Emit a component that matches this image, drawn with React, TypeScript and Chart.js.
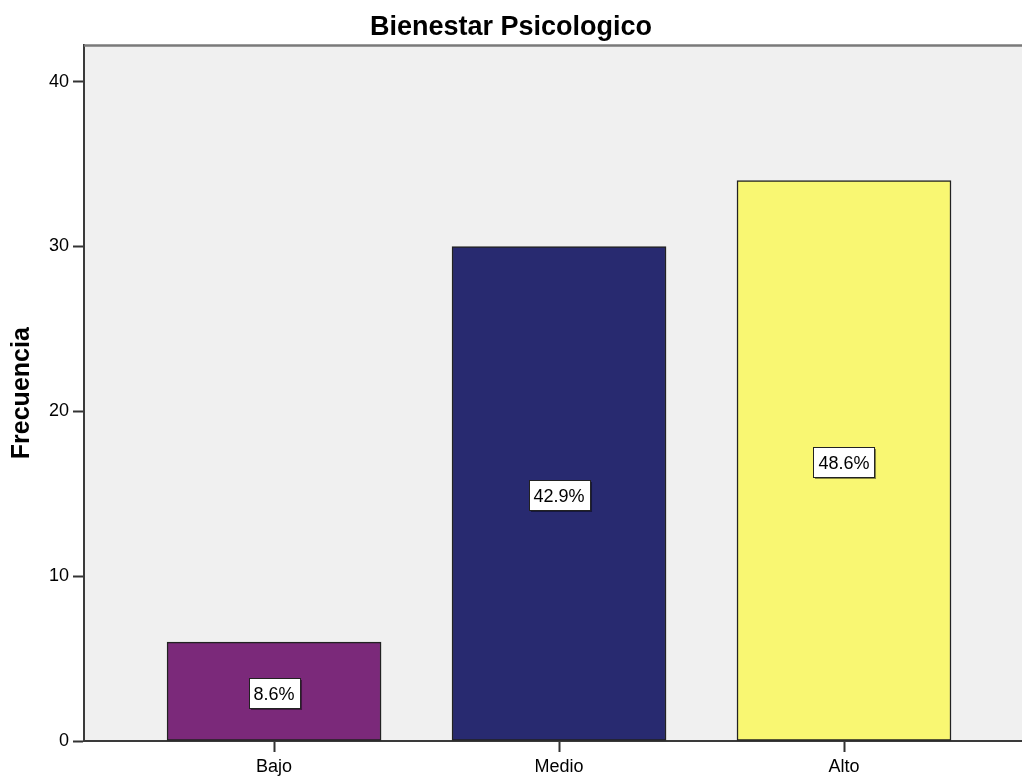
import React, { useEffect, useRef } from "react";
import { Chart, registerables } from "chart.js";

Chart.register(...registerables);

const categories = ["Bajo", "Medio", "Alto"];
const frequencies = [6, 30, 34];
const percentLabels = ["8.6%", "42.9%", "48.6%"];
const barColors = ["#7B297A", "#282A70", "#F9F772"];
const yTickValues = [0, 10, 20, 30, 40];
const chartTitle = "Bienestar Psicologico";
const yAxisTitle = "Frecuencia";

const FONT = "'Liberation Sans', Arial, sans-serif";

const decorPlugin = {
  id: "decor",
  beforeDraw(chart: any) {
    const { ctx, chartArea } = chart;
    ctx.save();
    ctx.fillStyle = "#F0F0F0";
    ctx.fillRect(chartArea.left, chartArea.top, chartArea.right - chartArea.left, chartArea.bottom - chartArea.top);
    ctx.restore();
  },
  afterDraw(chart: any) {
    const { ctx, chartArea } = chart;
    ctx.save();
    ctx.strokeStyle = "#7A7A7A";
    ctx.lineWidth = 2.5;
    ctx.beginPath();
    ctx.moveTo(chartArea.left, chartArea.top);
    ctx.lineTo(chartArea.right, chartArea.top);
    ctx.stroke();
    ctx.restore();
  },
  afterDatasetsDraw(chart: any) {
    const { ctx } = chart;
    const yScale = chart.scales.y;
    const meta = chart.getDatasetMeta(0);
    ctx.save();
    ctx.font = `18px ${FONT}`;
    ctx.textAlign = "center";
    ctx.textBaseline = "middle";
    meta.data.forEach((bar: any, i: number) => {
      const label = percentLabels[i];
      const cx = bar.x;
      const cy = yScale.getPixelForValue(frequencies[i] / 2) + 1.5;
      const w = ctx.measureText(label).width + 10;
      const h = 30;
      const x0 = Math.round(cx - w / 2) + 0.5;
      const y0 = Math.round(cy - h / 2) + 0.5;
      ctx.fillStyle = "rgba(0,0,0,0.45)";
      ctx.fillRect(x0 + 1.5, y0 + 1.5, w, h);
      ctx.fillStyle = "#FFFFFF";
      ctx.fillRect(x0, y0, w, h);
      ctx.strokeStyle = "#222222";
      ctx.lineWidth = 1;
      ctx.strokeRect(x0, y0, w, h);
      ctx.fillStyle = "#000000";
      ctx.fillText(label, cx, y0 + h / 2 + 2);
    });
    ctx.restore();
  },
};

export default function App() {
  const canvasRef = useRef<HTMLCanvasElement | null>(null);

  useEffect(() => {
    if (!canvasRef.current) return;
    const chart = new Chart(canvasRef.current, {
      type: "bar",
      data: {
        datasets: [
          {
            data: frequencies.map((v, i) => ({ x: i, y: v })),
            backgroundColor: barColors,
            borderColor: "#222222",
            borderWidth: 1.5,
            borderSkipped: false,
            barThickness: 214,
          } as any,
        ],
      },
      options: {
        responsive: false,
        animation: false,
        layout: { padding: 0 },
        plugins: {
          legend: { display: false },
          tooltip: { enabled: false },
          title: {
            display: true,
            text: chartTitle,
            color: "#000000",
            font: { family: FONT, size: 27, weight: "bold" },
            padding: { top: 11, bottom: 2 },
          },
        },
        scales: {
          x: {
            type: "linear",
            offset: false,
            min: -0.667,
            max: 2.6246,
            afterBuildTicks: (scale: any) => {
              scale.ticks = categories.map((_, i) => ({ value: i }));
            },
            afterFit: (scale: any) => {
              scale.height = 35;
            },
            ticks: {
              callback: (v: any) => categories[v] ?? "",
              color: "#000000",
              font: { family: FONT, size: 18 },
              padding: 4,
              maxRotation: 0,
              autoSkip: false,
            },
            grid: {
              display: true,
              offset: false,
              drawOnChartArea: false,
              drawTicks: true,
              tickLength: 11,
              tickColor: "#333333",
              tickWidth: 2,
            },
            border: { display: true, color: "#3A3A3A", width: 2 },
          },
          y: {
            type: "linear",
            min: 0,
            max: 42.2,
            afterBuildTicks: (scale: any) => {
              scale.ticks = yTickValues.map((v) => ({ value: v }));
            },
            afterFit: (scale: any) => {
              scale.width = 84;
            },
            ticks: {
              color: "#000000",
              font: { family: FONT, size: 18 },
              padding: 4,
            },
            grid: {
              display: true,
              drawOnChartArea: false,
              drawTicks: true,
              tickLength: 11,
              tickColor: "#333333",
              tickWidth: 2,
            },
            border: { display: true, color: "#3A3A3A", width: 2 },
            title: {
              display: true,
              text: yAxisTitle,
              color: "#000000",
              font: { family: FONT, size: 25, weight: "bold" },
              padding: { top: 7, bottom: 0 },
            },
          },
        },
      },
      plugins: [decorPlugin],
    });
    return () => chart.destroy();
  }, []);

  return (
    <div style={{ position: "fixed", left: 0, top: 0, width: 1022, height: 776, background: "#FFFFFF", overflow: "hidden" }}>
      <canvas ref={canvasRef} width={1022} height={776} style={{ display: "block" }} />
    </div>
  );
}
